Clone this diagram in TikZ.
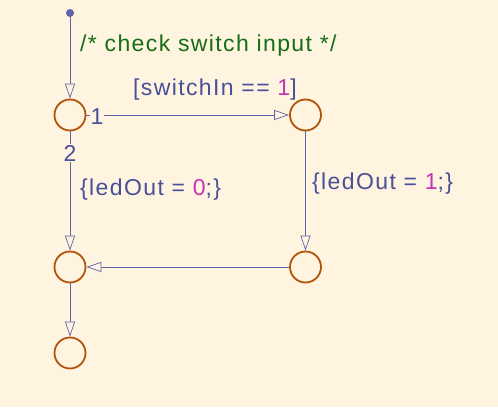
\documentclass[tikz,border=0pt]{standalone}
\usepackage{fontspec}
\setmainfont{Liberation Sans}[LetterSpace=6]
\usetikzlibrary{arrows.meta}
\definecolor{bg}{RGB}{255,244,224}
\definecolor{stc}{RGB}{178,84,10}
\definecolor{ln}{RGB}{92,100,168}
\definecolor{txt}{RGB}{72,80,152}
\definecolor{num}{RGB}{200,50,180}
\definecolor{cmt}{RGB}{20,110,20}
\tikzset{
  junc/.style={circle, draw=stc, line width=1.8pt, minimum size=31pt, inner sep=0pt},
  tr/.style={draw=ln, line width=0.7pt, -{Triangle[open, length=15pt, width=10pt, fill=bg]}},
  lbl/.style={text=txt, font=\fontsize{23}{27}\selectfont, inner sep=0pt},
  ord/.style={text=txt, font=\fontsize{23}{27}\selectfont, inner sep=1pt, fill=bg},
}
\begin{document}
\begin{tikzpicture}[x=1pt,y=-1pt]
\fill[bg] (0,0) rectangle (498,407);
\useasboundingbox (0,0) rectangle (498,407);
\node[circle, fill=ln, minimum size=8pt, inner sep=0pt] (s) at (70,13) {};
\node[junc] (a) at (70,115) {};
\node[junc] (b) at (305.5,115) {};
\node[junc] (c) at (70,267) {};
\node[junc] (d) at (305.5,267) {};
\node[junc] (e) at (70,353) {};
\draw[tr] (s) -- (a);
\draw[tr] (a) -- (b);
\draw[tr] (a) -- (c);
\draw[tr] (b) -- (d);
\draw[tr] (d) -- (c);
\draw[tr] (c) -- (e);
\node[ord] (o1) at (97,117) {1};
\node[ord] (o2) at (70,153) {2};
\node[lbl, text=cmt, anchor=west] (l0) at (80,46) {/* check switch input */};
\node[lbl, anchor=west] (l1) at (133,90) {[switchIn == \textcolor{num}{1}]};
\node[lbl, anchor=west] (l2) at (80,190) {\{ledOut = \textcolor{num}{0};\}};
\node[lbl, anchor=west] (l3) at (312,184) {\{ledOut = \textcolor{num}{1};\}};
\end{tikzpicture}
\end{document}
